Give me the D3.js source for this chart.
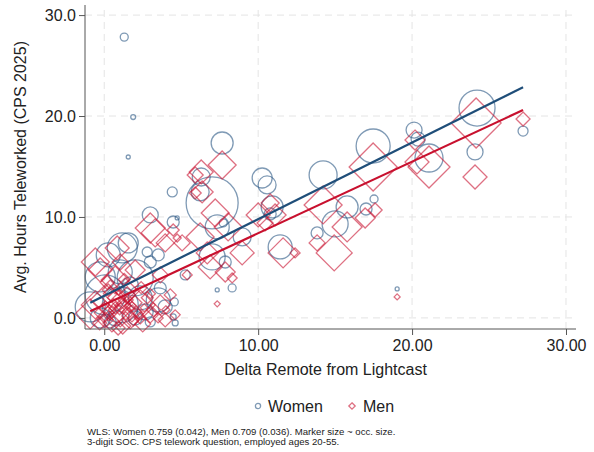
<!DOCTYPE html>
<html>
<head>
<meta charset="utf-8">
<script src="https://cdn.jsdelivr.net/npm/d3@7"></script>
<style>
  body { margin: 0; background: #fff; }
  svg { font-family: "Liberation Sans", Arial, sans-serif; }
</style>
</head>
<body>
<svg width="594" height="452"></svg>
<script>
// occupations: [delta remote, avg hours teleworked, occ. size]
const WOMEN = [
  [24.22, 20.79, 324], [27.21, 18.51, 25], [24.09, 16.44, 64], [20.13, 18.61, 64],
  [20.39, 17.72, 49], [21.10, 15.84, 196], [17.47, 17.03, 289], [14.22, 14.16, 196],
  [15.78, 10.99, 121], [17.53, 11.78, 16], [17.01, 10.79, 36], [15.0, 9.31, 169],
  [13.83, 8.42, 36], [19.03, 2.87, 4], [7.66, 17.33, 121], [6.30, 13.96, 81],
  [6.23, 12.48, 81], [7.01, 11.39, 676], [10.26, 13.86, 100], [10.58, 13.17, 81],
  [10.91, 10.99, 121], [10.78, 10.30, 36], [7.34, 9.01, 144], [7.73, 9.41, 16],
  [8.96, 8.02, 81], [7.01, 6.04, 169], [7.86, 5.54, 36], [11.43, 7.03, 144],
  [7.34, 2.77, 4], [8.31, 2.97, 16], [5.26, 4.26, 25], [1.56, 15.94, 4],
  [4.42, 12.48, 25], [2.99, 10.20, 64], [4.48, 9.50, 36], [4.74, 9.90, 4],
  [1.56, 7.43, 100], [1.30, 27.82, 16], [1.88, 19.90, 6],
  [0.26, 6.24, 144], [1.17, 6.93, 225], [2.79, 6.53, 25], [3.51, 6.24, 36],
  [-0.26, 4.06, 225], [2.01, 3.96, 324], [0.06, 2.28, 400], [-0.91, 1.09, 225],
  [2.66, 0.59, 64], [4.48, 0.10, 9], [4.55, 1.58, 16], [1.04, 1.29, 324],
  [2.34, 1.98, 144], [3.51, 1.78, 144], [3.96, 1.09, 49], [3.64, 2.97, 36],
  [2.01, 0.0, 49], [-0.26, 0.0, 100], [0.71, 0.0, 64], [1.69, 3.27, 64],
  [2.99, 5.54, 36], [0.39, -0.40, 36], [2.99, -0.40, 25], [1.04, 4.55, 144],
  [4.61, -0.50, 9]
];

const MEN = [
  [27.21, 19.70, 49], [24.16, 19.31, 625], [24.09, 13.96, 144], [21.10, 14.95, 441],
  [20.19, 17.62, 100], [20.32, 15.45, 144], [17.47, 14.95, 576], [14.22, 11.19, 361],
  [15.78, 9.01, 225], [16.95, 9.90, 100], [17.60, 10.69, 49], [13.83, 7.43, 64],
  [14.94, 6.44, 324], [12.40, 6.44, 25], [11.62, 6.44, 225], [19.03, 2.08, 9],
  [7.66, 15.15, 196], [6.30, 14.46, 144], [6.36, 12.48, 121], [7.21, 10.40, 196],
  [8.05, 9.01, 196], [10.0, 10.20, 144], [10.78, 11.39, 81], [11.10, 10.20, 121],
  [6.23, 8.02, 196], [8.96, 6.44, 144], [6.88, 5.05, 144], [7.86, 4.55, 100],
  [8.31, 3.96, 25], [7.34, 1.39, 9], [5.39, 4.26, 25], [10.45, 9.41, 64],
  [5.91, 14.16, 64], [5.91, 12.38, 36], [2.99, 8.91, 225], [4.48, 8.71, 36],
  [4.74, 7.92, 16], [0.84, 6.93, 144], [5.06, 7.43, 64], [3.31, 8.42, 196],
  [6.69, 6.44, 121], [3.96, 7.43, 81], [-0.58, 5.54, 196],
  [-0.58, 1.29, 196], [0.39, 1.78, 400], [1.36, 2.77, 144], [2.34, 1.29, 225],
  [3.64, 1.29, 100], [0.06, -0.20, 64], [1.04, 0.30, 144], [1.69, -0.20, 81],
  [2.99, 0.30, 64], [4.29, 2.28, 36], [-0.91, 0.40, 225], [0.71, 3.76, 196],
  [2.01, 4.75, 100], [-0.26, 4.75, 144], [3.64, 4.26, 64], [1.04, 5.54, 64],
  [4.61, 0.30, 25], [0.71, 0.99, 36], [1.56, 1.78, 25], [0.26, 2.77, 36],
  [2.34, 0.0, 36], [3.96, -0.20, 49], [0.52, 0.79, 16], [1.17, 1.78, 16],
  [0.91, 2.57, 9], [0.06, 1.29, 16], [1.82, 0.99, 9],
  [0.0, 0.5, 100], [0.5, -0.5, 81], [1.2, -0.8, 64], [1.8, 0.6, 100],
  [2.5, -0.6, 64], [3.2, 0.8, 49], [0.8, 2.0, 81], [1.5, 2.3, 64],
  [2.0, 1.5, 49], [2.8, 2.0, 36], [-0.3, -0.5, 49], [0.3, 0.2, 25],
  [1.0, 0.8, 25], [1.4, 0.2, 16], [2.2, 0.4, 25], [0.6, 1.4, 25],
  [1.9, -0.3, 25], [2.6, 1.0, 16], [3.5, 0.0, 25], [4.0, 0.8, 16],
  [0.2, 3.5, 49], [1.3, 3.8, 36], [2.4, 3.0, 36], [3.0, 2.4, 25],
  [1.7, 1.2, 36], [0.9, -1.0, 49], [0.4, 2.4, 49], [1.2, 1.2, 64]
];

// WLS fits: [intercept, slope]
const FIT_WOMEN = [2.2, 0.759];
const FIT_MEN = [1.3, 0.709];

const X_TICKS = [0, 10, 20, 30];
const Y_TICKS = [0, 10, 20, 30];

const NOTES = [
  "WLS: Women 0.759 (0.042), Men 0.709 (0.036). Marker size ~ occ. size.",
  "3-digit SOC. CPS telework question, employed ages 20-55."
];

const BLUE = "#2a5783", NAVY = "#1f4e79", RED = "#c8102e";

const svg = d3.select("svg");

const x = d3.scaleLinear().domain([-1.25, 30.65]).range([85, 576]);
const y = d3.scaleLinear().domain([-1.1, 31.0]).range([329, 5]);
const r = d3.scaleSqrt().domain([0, 676]).range([0, 26]);

const [x0, x1] = x.range();
const [y0, y1] = y.range();

// grid
const grid = svg.append("g")
  .attr("stroke", "#e4e4e4")
  .attr("stroke-width", 1)
  .attr("stroke-dasharray", "7,5");
grid.selectAll(".gx").data(X_TICKS).enter().append("line")
  .attr("x1", d => x(d)).attr("x2", d => x(d))
  .attr("y1", y0).attr("y2", y1);
grid.selectAll(".gy").data(Y_TICKS).enter().append("line")
  .attr("y1", d => y(d)).attr("y2", d => y(d))
  .attr("x1", x0).attr("x2", x1);

// markers
svg.append("g").selectAll("circle").data(WOMEN).enter().append("circle")
  .attr("cx", d => x(d[0]))
  .attr("cy", d => y(d[1]))
  .attr("r", d => r(d[2]))
  .attr("fill", "none")
  .attr("stroke", BLUE)
  .attr("stroke-opacity", 0.6)
  .attr("stroke-width", 1.3);

const diamond = h => `M0,${-h}L${h},0L0,${h}L${-h},0Z`;

svg.append("g").selectAll("path").data(MEN).enter().append("path")
  .attr("transform", d => `translate(${x(d[0])},${y(d[1])})`)
  .attr("d", d => diamond(r(d[2])))
  .attr("fill", "none")
  .attr("stroke", RED)
  .attr("stroke-opacity", 0.6)
  .attr("stroke-width", 1.3);

// fitted lines
const fitLine = (data, fit, color) => {
  const ext = d3.extent(data, d => d[0]);
  svg.append("line")
    .attr("x1", x(ext[0])).attr("y1", y(fit[0] + fit[1] * ext[0]))
    .attr("x2", x(ext[1])).attr("y2", y(fit[0] + fit[1] * ext[1]))
    .attr("stroke", color)
    .attr("stroke-width", 2.2);
};
fitLine(WOMEN, FIT_WOMEN, NAVY);
fitLine(MEN, FIT_MEN, RED);

// axes
const xAxis = svg.append("g")
  .attr("transform", `translate(0,${y0})`)
  .call(d3.axisBottom(x).tickValues(X_TICKS).tickFormat(d3.format(".2f")).tickSize(6).tickPadding(5));
const yAxis = svg.append("g")
  .attr("transform", `translate(${x0},0)`)
  .call(d3.axisLeft(y).tickValues(Y_TICKS).tickFormat(d3.format(".1f")).tickSize(6).tickPadding(3));

[xAxis, yAxis].forEach(a => {
  a.select(".domain").attr("stroke", "#555").attr("d",
    a === xAxis ? `M${x0},0H${x1}` : `M0,${y0}V${y1}`);
  a.selectAll(".tick line").attr("stroke", "#555");
  a.selectAll(".tick text").attr("font-size", 16).attr("fill", "#222")
    .attr("font-family", "'Liberation Sans', Arial, sans-serif");
});

// titles
svg.append("text")
  .attr("x", (x0 + x1) / 2 - 5).attr("y", 375)
  .attr("text-anchor", "middle").attr("font-size", 16).attr("fill", "#222")
  .text("Delta Remote from Lightcast");

svg.append("text")
  .attr("transform", `translate(26,${(y0 + y1) / 2}) rotate(-90)`)
  .attr("text-anchor", "middle").attr("font-size", 16).attr("fill", "#222")
  .text("Avg. Hours Teleworked (CPS 2025)");

// legend
const legend = svg.append("g").attr("transform", "translate(0,406)");
legend.append("circle").attr("cx", 258).attr("cy", 0).attr("r", 2.6)
  .attr("fill", "none").attr("stroke", BLUE).attr("stroke-opacity", 0.6).attr("stroke-width", 1.3);
legend.append("text").attr("x", 268).attr("y", 6).attr("font-size", 16).attr("fill", "#222").text("Women");
legend.append("path").attr("transform", "translate(352,0)").attr("d", diamond(3.2))
  .attr("fill", "none").attr("stroke", RED).attr("stroke-opacity", 0.6).attr("stroke-width", 1.3);
legend.append("text").attr("x", 363).attr("y", 6).attr("font-size", 16).attr("fill", "#222").text("Men");

// notes
svg.append("g").selectAll("text").data(NOTES).enter().append("text")
  .attr("x", 87).attr("y", (d, i) => 435 + i * 10)
  .attr("font-size", 9.6).attr("fill", "#222")
  .text(d => d);
</script>
</body>
</html>
